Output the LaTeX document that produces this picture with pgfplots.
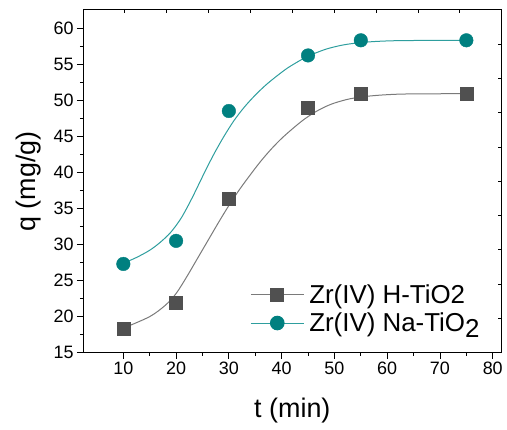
\documentclass[border=0pt]{standalone}
\usepackage{fontspec}
\setmainfont{Liberation Sans}
\usepackage{pgfplots}
\pgfplotsset{compat=1.18}
\definecolor{hgray}{HTML}{505050}
\definecolor{hline}{HTML}{7A7A7A}
\definecolor{nateal}{HTML}{008080}
\definecolor{naline}{HTML}{2E9E9E}

\begin{document}
\begin{tikzpicture}
\useasboundingbox (0,0) rectangle (507bp,430bp);
\begin{axis}[
  at={(83bp,77.3bp)}, anchor=south west,
  scale only axis, width=418.7bp, height=342.7bp,
  xmin=2.36, xmax=81.7, ymin=15, ymax=62.5,
  axis x line*=bottom, axis y line*=left,
  axis line style={line width=1bp,black},
  xtick={10,20,...,80}, ytick={15,20,...,60},
  minor tick num=1,
  tick align=outside,
  major tick length=6bp, minor tick length=3bp,
  tick style={line width=0.9bp,black},
  /pgf/number format/assume math mode=true,
  ticklabel style={font=\fontsize{18}{20}\selectfont},
  xlabel={t (min)}, ylabel={q (mg/g)},
  label style={font=\fontsize{27}{30}\selectfont},
  xlabel style={at={(axis description cs:0.5,-0.170)},anchor=center},
  ylabel style={at={(axis description cs:-0.129,0.5)},anchor=center,rotate=0},
  legend style={font=\fontsize{26}{29}\selectfont, draw=none, fill=none,
    at={(axis description cs:0.399,0.205)}, anchor=north west,
    inner sep=0pt, row sep=4bp, nodes={inner sep=2bp},
    /tikz/every odd column/.append style={column sep=3bp}},
  legend cell align=left,
  legend image code/.code={
    \draw[mark repeat=2,mark phase=2,#1] plot coordinates {(0bp,0bp) (26.5bp,0bp) (53bp,0bp)};},
]
% fitted curves
\addplot[hline, line width=1bp, smooth, forget plot] coordinates {
  (10,18.4)(15,20.0)(18,21.6)(20,23.2)(22,25.5)(24,28.0)(26,30.5)(28,33.0)
  (30,35.4)(32,37.6)(34,39.6)(36,41.5)(38,43.2)(40,44.7)(42,46.0)(44,47.2)
  (46,48.2)(48,49.0)(50,49.6)(53,50.2)(57,50.6)(63,50.85)(75,50.9)};
\addplot[naline, line width=1bp, smooth, forget plot] coordinates {
  (10,27.4)(12.5,28.2)(15,29.2)(17,30.3)(19,31.7)(21,33.7)(23,36.4)(25,39.4)
  (27,42.3)(29,44.9)(31,47.2)(33,49.1)(35,50.7)(37,52.1)(39,53.3)(41,54.4)
  (43,55.3)(45,56.1)(47,56.7)(49,57.2)(52,57.7)(56,58.05)(62,58.25)(75,58.3)};
% measured data
\addplot[only marks, mark=square*, mark size=6.5bp, hgray, forget plot] coordinates {
  (10,18.3)(20,21.9)(30,36.3)(45,49.0)(55,50.9)(75,50.9)};
\addplot[only marks, mark=*, mark size=6.8bp, nateal, forget plot] coordinates {
  (10,27.3)(20,30.5)(30,48.5)(45,56.2)(55,58.3)(75,58.3)};
\addlegendimage{hline, line width=1bp, mark=square*, mark size=6.5bp,
  mark options={hgray}}
\addlegendentry{Zr(IV) H-TiO2}
\addlegendimage{naline, line width=1bp, mark=*, mark size=6.8bp,
  mark options={nateal}}
\addlegendentry{Zr(IV) Na-TiO\raisebox{-0.22em}{2}}
\end{axis}
\begin{axis}[
  at={(83bp,77.3bp)}, anchor=south west,
  scale only axis, width=418.7bp, height=342.7bp,
  xmin=0, xmax=10, ymin=0, ymax=10,
  axis x line*=top, axis y line*=right,
  axis line style={line width=1bp,black},
  xtick={1,...,9}, ytick={1,...,9},
  xticklabels={}, yticklabels={},
  tick align=inside, major tick length=3.5bp,
  tick style={line width=0.9bp,black},
]
\end{axis}
\end{tikzpicture}
\end{document}
